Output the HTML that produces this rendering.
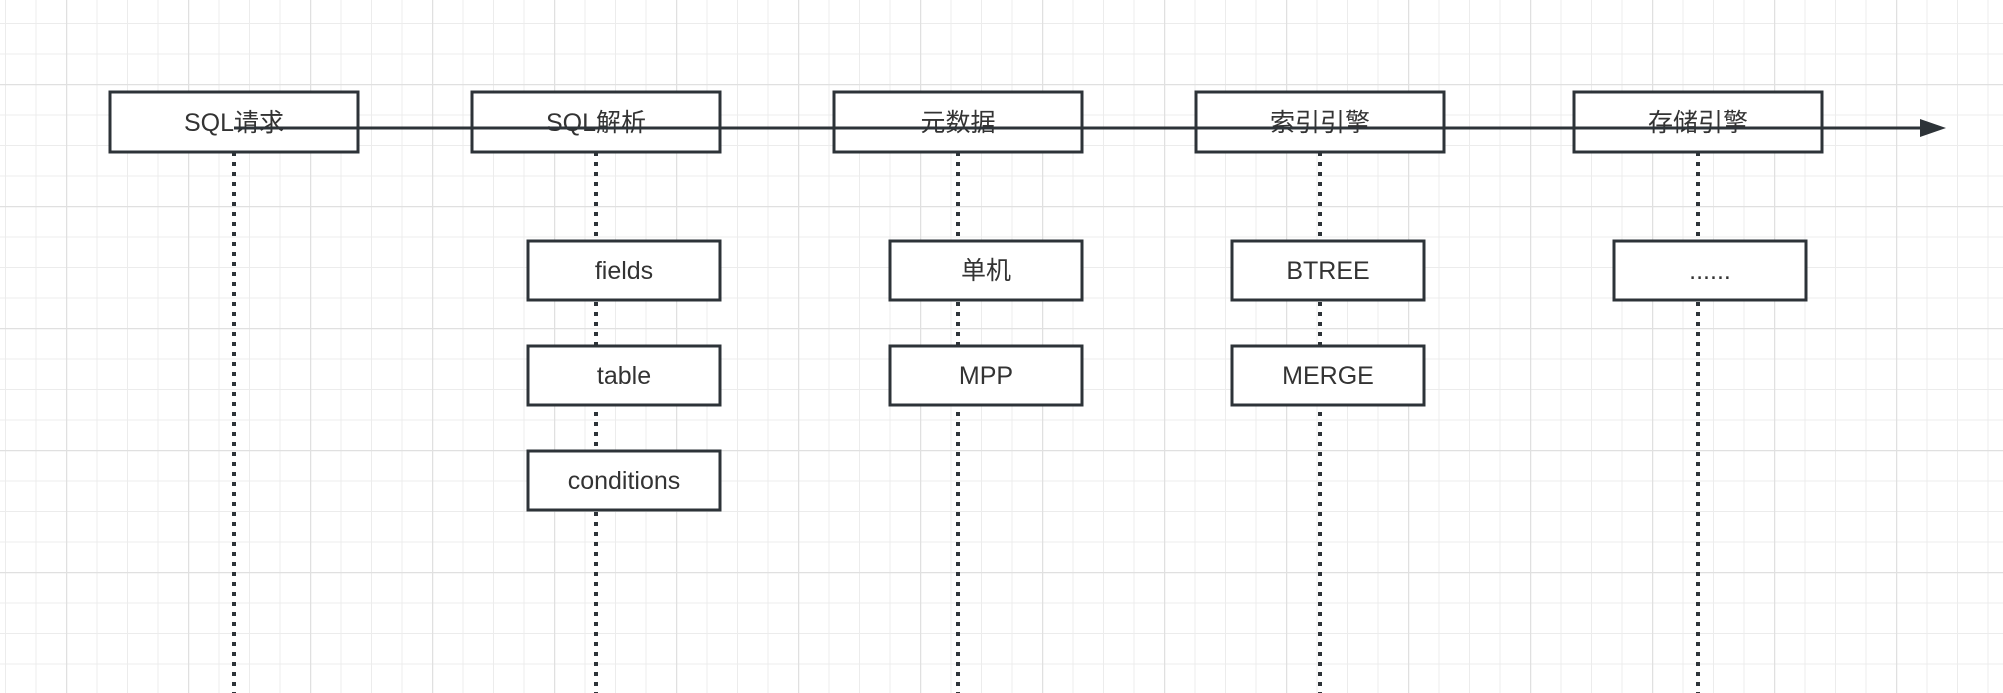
<!DOCTYPE html>
<html><head><meta charset="utf-8"><style>
html,body{margin:0;padding:0;background:#fff;}
svg{display:block;}
text{font-family:"Liberation Sans","Noto Sans CJK SC",sans-serif;font-size:25px;fill:#333;text-anchor:middle;dominant-baseline:central;}
</style></head><body>
<svg width="2003" height="693" viewBox="0 0 2003 693" xmlns="http://www.w3.org/2000/svg">
<defs>
<pattern id="minor" x="66" y="84" width="30.5" height="30.5" patternUnits="userSpaceOnUse">
<path d="M0 0H30.5M0 0V30.5" stroke="#ececec" stroke-width="2" fill="none"/>
</pattern>
<pattern id="major" x="66" y="84" width="122" height="122" patternUnits="userSpaceOnUse">
<path d="M0 0H122M0 0V122" stroke="#e0e0e0" stroke-width="2.5" fill="none"/>
</pattern>
</defs>
<rect width="2003" height="693" fill="#fff"/>
<rect width="2003" height="693" fill="url(#minor)"/>
<rect width="2003" height="693" fill="url(#major)"/>
<g stroke="#2d3338" stroke-width="4" stroke-dasharray="4 6" fill="none">
<line x1="234" y1="152" x2="234" y2="693"/>
<line x1="596" y1="152" x2="596" y2="693"/>
<line x1="958" y1="152" x2="958" y2="693"/>
<line x1="1320" y1="152" x2="1320" y2="693"/>
<line x1="1698" y1="152" x2="1698" y2="693"/>
</g>
<g fill="#fff" stroke="#2d3338" stroke-width="3">
<rect x="110" y="92" width="248" height="60"/>
<rect x="472" y="92" width="248" height="60"/>
<rect x="834" y="92" width="248" height="60"/>
<rect x="1196" y="92" width="248" height="60"/>
<rect x="1574" y="92" width="248" height="60"/>
<rect x="528" y="241" width="192" height="59"/>
<rect x="528" y="346" width="192" height="59"/>
<rect x="528" y="451" width="192" height="59"/>
<rect x="890" y="241" width="192" height="59"/>
<rect x="890" y="346" width="192" height="59"/>
<rect x="1232" y="241" width="192" height="59"/>
<rect x="1232" y="346" width="192" height="59"/>
<rect x="1614" y="241" width="192" height="59"/>
</g>
<text x="234" y="123">SQL请求</text>
<text x="596" y="123">SQL解析</text>
<text x="958" y="123">元数据</text>
<text x="1320" y="123">索引引擎</text>
<text x="1698" y="123">存储引擎</text>
<text x="624" y="271">fields</text>
<text x="624" y="376">table</text>
<text x="624" y="481">conditions</text>
<text x="986" y="271">单机</text>
<text x="986" y="376">MPP</text>
<text x="1328" y="271">BTREE</text>
<text x="1328" y="376">MERGE</text>
<text x="1710" y="271">......</text>
<line x1="234" y1="128" x2="1925" y2="128" stroke="#2d3338" stroke-width="3"/>
<polygon points="1920,119 1946,128 1920,137" fill="#2d3338"/>
</svg>
</body></html>
